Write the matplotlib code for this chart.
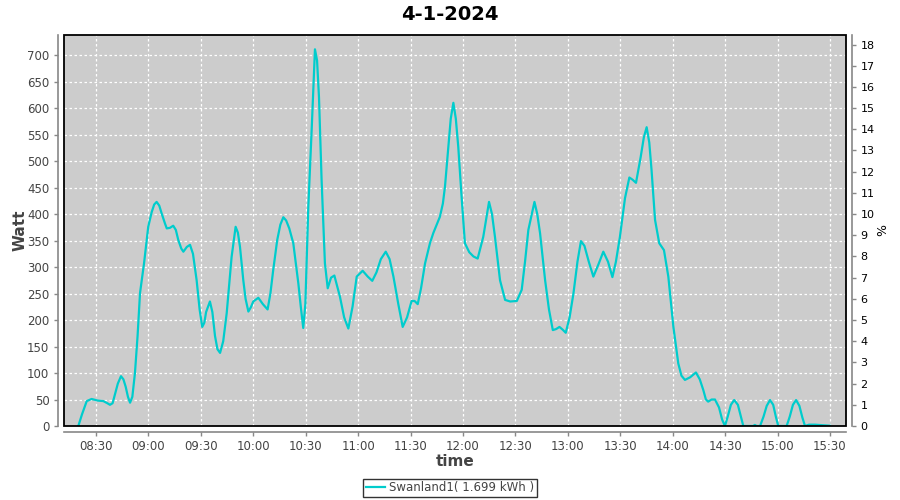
import numpy as np
import pandas as pd
import matplotlib
matplotlib.use("Agg")
import matplotlib.pyplot as plt
import matplotlib.dates as mdates
from matplotlib.patches import Rectangle

# minute of day (08:30 = 510) and power in W
minutes = [
    499.9, 502.0, 504.7, 507.5, 511.0, 514.2, 516.5, 518.0, 519.5, 520.9,
    522.5, 524.3, 525.7, 527.0, 528.3, 529.5, 530.8, 532.3, 533.8, 535.2,
    537.5, 539.9, 541.9, 543.3, 544.7, 546.2, 547.6, 549.5, 550.5, 552.3,
    554.2, 555.7, 557.1, 558.8, 560.0, 562.0, 563.8, 565.5, 567.6, 569.3,
    570.8, 572.0, 573.0, 575.2, 576.6, 578.1, 579.5, 581.0, 582.8, 584.8,
    587.6, 589.9, 591.2, 592.4, 594.3, 595.6, 597.2, 598.6, 600.0, 602.9,
    605.5, 608.2, 609.8, 611.4, 613.7, 615.5, 617.2, 618.8, 620.6, 622.9,
    625.8, 627.2, 628.6, 629.8, 631.5, 633.4, 635.3, 636.5, 637.6, 639.1,
    641.0, 642.6, 644.5, 646.4, 649.6, 652.0, 654.4, 656.8, 659.2, 662.6,
    665.5, 668.1, 670.5, 673.0, 675.8, 678.0, 680.2, 683.0, 685.5, 688.0,
    690.6, 692.3, 694.1, 696.0, 698.3, 701.1, 703.0, 706.8, 708.5, 709.7,
    711.6, 713.0, 714.5, 715.9, 717.3, 719.2, 721.1, 723.6, 726.0, 728.4,
    731.6, 734.9, 736.6, 738.3, 741.2, 744.1, 747.0, 750.8, 753.6, 755.5,
    757.4, 760.9, 762.5, 764.1, 767.0, 769.2, 771.4, 773.3, 775.2, 777.0,
    778.8, 781.0, 783.2, 785.5, 787.5, 789.5, 792.0, 794.6, 797.5, 800.3,
    803.0, 805.5, 807.5, 809.8, 812.7, 815.2, 817.0, 819.0, 821.7, 823.5,
    825.1, 826.6, 827.9, 829.9, 832.3, 835.0, 837.5, 840.4, 843.2, 845.0,
    847.0, 850.0, 853.3, 855.5, 857.5, 859.0, 860.3, 862.3, 864.2, 866.5,
    868.3, 869.9, 871.5, 873.3, 875.2, 877.3, 879.0, 880.4, 886.0, 887.0,
    888.0, 890.0, 892.0, 893.8, 895.7, 897.5, 899.0, 900.4, 905.2, 907.0,
    908.8, 910.6, 912.5, 914.2, 915.7, 918.0, 921.4, 930.0,
]
watt = [
    0, 22, 47, 51, 48, 47, 43, 40, 43, 60,
    80, 94, 88, 74, 55, 44, 55, 100, 170, 251,
    307, 376, 404, 418, 423, 416, 401, 382, 373, 374,
    378, 370, 351, 335, 329, 338, 342, 325, 275, 220,
    187, 195, 215, 235, 215, 170, 145, 138, 160, 213,
    319, 376, 365, 338, 275, 240, 216, 224, 235, 242,
    230, 220, 250, 294, 351, 380, 394, 388, 373, 345,
    269, 225, 185, 230, 414, 558, 711, 690, 621, 464,
    307, 260, 280, 284, 244, 205, 184, 225, 282, 293,
    282, 274, 290, 315, 329, 315, 282, 230, 187, 205,
    236, 236, 230, 260, 307, 345, 364, 395, 420, 452,
    527, 580, 610, 580, 527, 433, 345, 328, 320, 316,
    357, 423, 400, 357, 275, 238, 235, 236, 257, 310,
    370, 423, 400, 364, 275, 220, 181, 183, 187, 182,
    176, 205, 250, 310, 349, 340, 310, 282, 305, 329,
    310, 281, 310, 357, 430, 469, 465, 459, 508, 545,
    564, 535, 483, 389, 345, 332, 282, 187, 118, 95,
    87, 92, 101, 88, 68, 50, 46, 50, 50, 35,
    12, 0, 18, 40, 49, 40, 18, 0, 0, 2,
    0, 0, 18, 38, 49, 40, 18, 0, 0, 18,
    40, 49, 38, 16, 0, 2.5, 2.5, 0.5,
]

series_label = "Swanland1( 1.699 kWh )"
chart_title = "4-1-2024"
pct_scale = 40.0   # W per %

times = pd.Timestamp("2024-01-04") + pd.to_timedelta(minutes, unit="m")

line_color = "#00CCCC"
axis_gray = "#888888"
text_gray = "#444444"

fig = plt.figure(figsize=(9, 5), dpi=100)
ax = fig.add_axes([64 / 900, 74 / 500, 782 / 900, 391 / 500])
ax.set_facecolor("#CCCCCC")

ax.plot(times, watt, color=line_color, lw=1.6, zorder=3)

t0 = pd.Timestamp("2024-01-04 08:11:42")
t1 = pd.Timestamp("2024-01-04 15:39:10")
ax.set_xlim(t0, t1)
ax.set_ylim(0, 738)
ax.set_yticks(np.arange(0, 701, 50))
ax.xaxis.set_major_locator(mdates.MinuteLocator(byminute=[0, 30]))
ax.xaxis.set_major_formatter(mdates.DateFormatter("%H:%M"))

ax.grid(True, color="white", ls=(0, (2, 2)), lw=0.9)
ax.set_axisbelow(True)

ax.spines["top"].set_visible(False)
ax.spines["right"].set_visible(False)
for s in ["left", "bottom"]:
    ax.spines[s].set_position(("outward", 4))
    ax.spines[s].set_color(axis_gray)
    ax.spines[s].set_linewidth(1.2)
ax.tick_params(axis="both", colors=axis_gray, length=3, width=1,
               labelsize=8.5, labelcolor=text_gray)
ax.tick_params(axis="x", pad=3)

# black outline around the data area
ax.add_patch(Rectangle((0, 0), 1, 1, transform=ax.transAxes, fill=False,
                       ec="black", lw=1.3, clip_on=False, zorder=5))

ax2 = ax.twinx()
ax2.set_ylim(0, 738 / pct_scale)
ax2.set_yticks(np.arange(0, 19, 1))
for s in ["top", "left", "bottom"]:
    ax2.spines[s].set_visible(False)
ax2.spines["right"].set_position(("outward", 4))
ax2.spines["right"].set_color(axis_gray)
ax2.spines["right"].set_linewidth(1.2)
ax2.tick_params(axis="y", colors=axis_gray, length=3, width=1,
                labelsize=8, labelcolor="black")

ax.set_ylabel("Watt", fontsize=11, fontweight="bold", color=text_gray)
ax.yaxis.set_label_coords(-0.046, 0.5)
ax.set_xlabel("time", fontsize=11, fontweight="bold", color=text_gray, labelpad=1)
ax2.set_ylabel("%", fontsize=9, color="black", labelpad=1)
fig.suptitle(chart_title, x=0.5, y=0.99, fontsize=14, fontweight="bold")

leg = fig.legend(handles=ax.get_lines(), labels=[series_label],
                 loc="center", bbox_to_anchor=(0.5, 0.024), fontsize=8.5,
                 frameon=True, fancybox=False, edgecolor="black",
                 handlelength=1.6, handletextpad=0.3, borderpad=0.25,
                 borderaxespad=0)
leg.get_frame().set_linewidth(1.0)
for t in leg.get_texts():
    t.set_color(text_gray)

fig.savefig("out.png", dpi=100)
